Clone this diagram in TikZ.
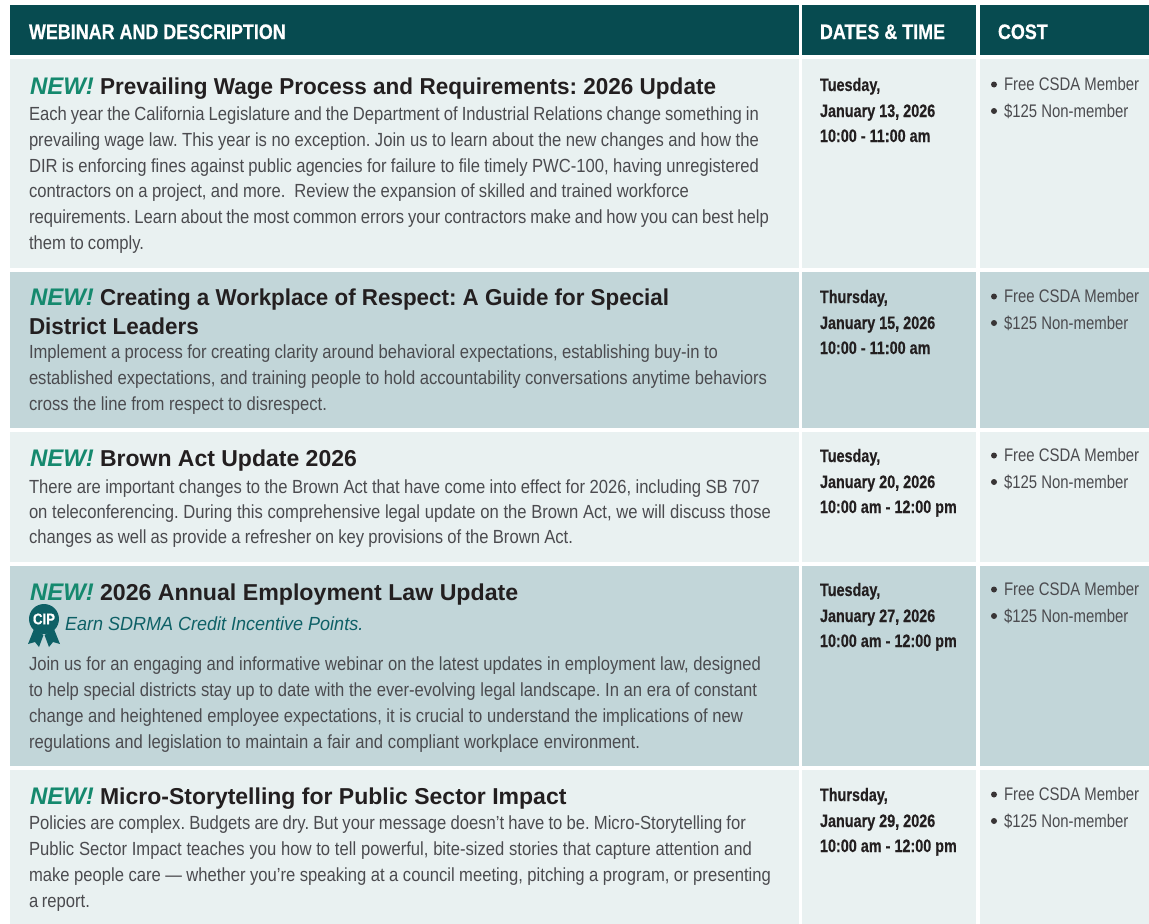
\documentclass[tikz,border=0pt]{standalone}
\usepackage{graphicx}
\usepackage{fontspec}
\setmainfont{Liberation Sans}
\newfontfamily\cond[FakeStretch=0.875]{Liberation Sans}
\newfontfamily\dcond[FakeStretch=0.80,FakeBold=0.4]{Liberation Sans}
\newfontfamily\ccond[FakeStretch=0.82]{Liberation Sans}
\newfontfamily\econd[FakeStretch=0.948]{Liberation Sans}
\newfontfamily\hcond[FakeStretch=0.853,FakeBold=0.6]{Liberation Sans}
\definecolor{hdr}{HTML}{074B50}
\definecolor{lite}{HTML}{E9F1F1}
\definecolor{dark}{HTML}{C2D6D9}
\definecolor{newg}{HTML}{15896E}
\definecolor{ttl}{HTML}{231F20}
\definecolor{bod}{HTML}{4B4B4F}
\definecolor{cipc}{HTML}{0E6066}
\tikzset{
 tx/.style={anchor=base west,inner sep=0pt,outer sep=0pt},
 hd/.style={tx,text=white,font=\hcond\bfseries\fontsize{21}{24}\selectfont},
 tt/.style={tx,text=ttl,font=\bfseries\fontsize{23}{26}\selectfont},
 nw/.style={tx,text=newg,font=\bfseries\itshape\fontsize{24}{26}\selectfont},
 bd/.style={tx,text=bod,font=\cond\fontsize{19}{22}\selectfont},
 dt/.style={tx,text=ttl,font=\dcond\bfseries\fontsize{18}{22}\selectfont},
 ct/.style={tx,text=bod,font=\ccond\fontsize{18.2}{22}\selectfont},
 bu/.style={circle,fill=ttl!90,inner sep=0pt,minimum size=6pt},
 ci/.style={tx,text=cipc,font=\econd\itshape\fontsize{19}{22}\selectfont}
}
\newcommand{\rowcells}[3]{%
 \fill[#3] (10,#1) rectangle (799,#2);
 \fill[#3] (802,#1) rectangle (976,#2);
 \fill[#3] (980,#1) rectangle (1149,#2);}
\newcommand{\sched}[5]{%
 \node[dt] (#1a) at (820,#2+6) {#3};
 \node[dt] (#1b) at (820,#2+32) {#4};
 \node[dt] (#1c) at (820,#2+57) {#5};
 \node[bu] (#1d) at (994,#2-0.5) {};
 \node[ct] (#1e) at (1004,#2+5.5) {Free CSDA Member};
 \node[bu] (#1f) at (994,#2+26) {};
 \node[ct] (#1g) at (1004,#2+32) {\$125 Non-member};}
% one body line: name, baseline y, right end x, text
\newcommand{\bl}[4]{\node[bd] (#1) at (29,#2) {\makebox[\dimexpr#3pt-29pt\relax][s]{#4}};}
\begin{document}
\frenchspacing
\begin{tikzpicture}[x=1pt,y=-1pt]
\useasboundingbox (0,0) rectangle (1149,924);
\fill[white] (0,0) rectangle (1149,924);
\rowcells{5}{55}{hdr}
\rowcells{59}{268}{lite}
\rowcells{272}{428}{dark}
\rowcells{432}{562}{lite}
\rowcells{566}{766}{dark}
\rowcells{770}{924}{lite}
\node[hd] (h1) at (29,39) {WEBINAR AND DESCRIPTION};
\node[hd] (h2) at (820,39) {DATES \& TIME};
\node[hd] (h3) at (998,39) {COST};
% row 1
\node[nw] (n1) at (30,94) {NEW!};
\node[tt] (t1) at (100,94) {\scalebox{0.979}[1]{Prevailing Wage Process and Requirements: 2026 Update}};
\bl{a1}{120}{759}{Each year the California Legislature and the Department of Industrial Relations change something in}
\bl{a2}{146}{759}{prevailing wage law. This year is no exception. Join us to learn about the new changes and how the}
\bl{a3}{172}{759}{DIR is enforcing fines against public agencies for failure to file timely PWC-100, having unregistered}
\bl{a4}{197}{689}{contractors on a project, and more.\ \ Review the expansion of skilled and trained workforce}
\bl{a5}{223}{769}{requirements. Learn about the most common errors your contractors make and how you can best help}
\bl{a6}{249}{144}{them to comply.}
\sched{s1}{85}{Tuesday,}{January 13, 2026}{10:00 - 11:00 am}
% row 2
\node[nw] (n2) at (30,305) {NEW!};
\node[tt] (t2) at (100,305) {\scalebox{0.973}[1]{Creating a Workplace of Respect: A Guide for Special}};
\node[tt] (t2b) at (29,334) {\scalebox{0.977}[1]{District Leaders}};
\bl{b1}{358}{718}{Implement a process for creating clarity around behavioral expectations, establishing buy-in to}
\bl{b2}{384}{767}{established expectations, and training people to hold accountability conversations anytime behaviors}
\bl{b3}{410}{327}{cross the line from respect to disrespect.}
\sched{s2}{297}{Thursday,}{January 15, 2026}{10:00 - 11:00 am}
% row 3
\node[nw] (n3) at (30,466) {NEW!};
\node[tt] (t3) at (100,466) {Brown Act Update 2026};
\bl{c1}{493}{760}{There are important changes to the Brown Act that have come into effect for 2026, including SB 707}
\bl{c2}{518}{771}{on teleconferencing. During this comprehensive legal update on the Brown Act, we will discuss those}
\bl{c3}{543}{573}{changes as well as provide a refresher on key provisions of the Brown Act.}
\sched{s3}{456}{Tuesday,}{January 20, 2026}{10:00 am - 12:00 pm}
% row 4
\node[nw] (n4) at (30,600) {NEW!};
\node[tt] (t4) at (100,600) {\scalebox{1.007}[1]{2026 Annual Employment Law Update}};
\fill[cipc] (34,629) -- (28,644) -- (35,642) -- (39,647) -- (43.5,635) -- cycle;
\fill[cipc] (54,629) -- (60,644) -- (53,642) -- (49,647) -- (44.5,635) -- cycle;
\node[circle,fill=cipc,minimum size=30pt,inner sep=0pt,text=white,font=\hcond\bfseries\fontsize{15.5}{16}\selectfont] (cip) at (44,619) {CIP};
\node[ci] (e1) at (65,630) {Earn SDRMA Credit Incentive Points.};
\bl{d1}{670}{761}{Join us for an engaging and informative webinar on the latest updates in employment law, designed}
\bl{d2}{696}{757}{to help special districts stay up to date with the ever-evolving legal landscape. In an era of constant}
\bl{d3}{722}{743}{change and heightened employee expectations, it is crucial to understand the implications of new}
\bl{d4}{748}{640}{regulations and legislation to maintain a fair and compliant workplace environment.}
\sched{s4}{590}{Tuesday,}{January 27, 2026}{10:00 am - 12:00 pm}
% row 5
\node[nw] (n5) at (30,804) {NEW!};
\node[tt] (t5) at (100,804) {Micro-Storytelling for Public Sector Impact};
\bl{f1}{829}{746}{Policies are complex. Budgets are dry. But your message doesn’t have to be. Micro-Storytelling for}
\bl{f2}{855}{752}{Public Sector Impact teaches you how to tell powerful, bite-sized stories that capture attention and}
\bl{f3}{881}{771}{make people care — whether you’re speaking at a council meeting, pitching a program, or presenting}
\bl{f4}{907}{90}{a report.}
\sched{s5}{795}{Thursday,}{January 29, 2026}{10:00 am - 12:00 pm}
\end{tikzpicture}
\end{document}
